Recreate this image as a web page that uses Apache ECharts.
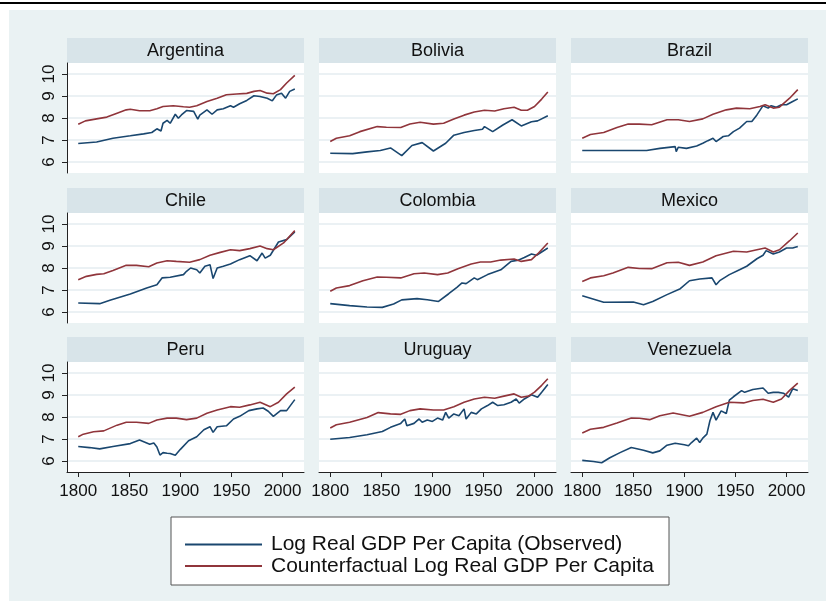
<!DOCTYPE html>
<html>
<head>
<meta charset="UTF-8">
<title>Log Real GDP Per Capita</title>
<script src="https://cdn.jsdelivr.net/npm/echarts@6.0.0/dist/echarts.min.js"></script>
<style>
  html, body { margin: 0; padding: 0; background: #fff; }
  #main { width: 826px; height: 605px; }
</style>
</head>
<body>
<div id="main"></div>
<script type="text/javascript">
// 国家 / 面板顺序
var countries = ['Argentina', 'Bolivia', 'Brazil', 'Chile', 'Colombia', 'Mexico', 'Peru', 'Uruguay', 'Venezuela'];
var seriesNames = ['Log Real GDP Per Capita (Observed)', 'Counterfactual Log Real GDP Per Capita'];
var yTicks = [6, 7, 8, 9, 10];
var xTicks = [1800, 1850, 1900, 1950, 2000];

// [year, log gdp]
var argObs = [[1800,6.84],[1818,6.91],[1834,7.08],[1851,7.19],[1864,7.28],[1872,7.34],[1877,7.51],[1881,7.41],[1883,7.76],[1887,7.89],[1890,7.76],[1895,8.17],[1898,7.99],[1901,8.14],[1906,8.34],[1913,8.30],[1917,7.95],[1919,8.13],[1926,8.37],[1931,8.17],[1936,8.37],[1942,8.42],[1949,8.56],[1952,8.49],[1958,8.65],[1965,8.80],[1972,9.01],[1978,8.98],[1985,8.90],[1990,8.78],[1994,9.04],[1999,9.13],[2003,8.90],[2007,9.21],[2012,9.32]];
var argCf = [[1800,7.72],[1807,7.87],[1818,7.96],[1828,8.04],[1838,8.22],[1847,8.37],[1851,8.40],[1860,8.33],[1870,8.33],[1877,8.42],[1883,8.52],[1893,8.56],[1903,8.51],[1909,8.49],[1916,8.56],[1926,8.75],[1936,8.90],[1945,9.06],[1955,9.09],[1965,9.12],[1972,9.21],[1978,9.25],[1985,9.13],[1991,9.10],[1998,9.29],[2004,9.59],[2012,9.94]];

var bolObs = [[1800,6.40],[1822,6.38],[1836,6.46],[1849,6.52],[1859,6.64],[1870,6.29],[1880,6.75],[1890,6.88],[1901,6.50],[1913,6.85],[1921,7.22],[1931,7.34],[1941,7.43],[1949,7.49],[1951,7.61],[1959,7.38],[1969,7.68],[1978,7.92],[1987,7.64],[1997,7.83],[2003,7.87],[2013,8.10]];
var bolCf = [[1800,6.93],[1806,7.08],[1819,7.19],[1829,7.38],[1846,7.61],[1855,7.58],[1869,7.57],[1878,7.73],[1888,7.81],[1901,7.72],[1911,7.76],[1921,7.95],[1931,8.13],[1941,8.27],[1951,8.35],[1961,8.32],[1970,8.42],[1980,8.49],[1987,8.35],[1993,8.35],[2000,8.52],[2007,8.86],[2013,9.18]];

var braObs = [[1800,6.52],[1863,6.52],[1876,6.62],[1891,6.70],[1892,6.47],[1894,6.67],[1902,6.62],[1912,6.73],[1918,6.85],[1923,6.97],[1928,7.08],[1931,6.93],[1938,7.16],[1943,7.19],[1948,7.38],[1954,7.54],[1961,7.84],[1966,7.84],[1971,8.14],[1977,8.56],[1982,8.45],[1985,8.56],[1990,8.49],[1995,8.60],[2000,8.60],[2006,8.75],[2011,8.87]];
var braCf = [[1800,7.08],[1808,7.25],[1821,7.34],[1834,7.57],[1845,7.73],[1856,7.72],[1868,7.69],[1883,7.92],[1894,7.92],[1905,7.84],[1918,7.96],[1928,8.17],[1941,8.37],[1951,8.45],[1964,8.42],[1974,8.52],[1979,8.60],[1987,8.45],[1993,8.49],[2003,8.90],[2011,9.29]];

var chlObs = [[1800,6.41],[1821,6.38],[1831,6.53],[1851,6.82],[1867,7.09],[1877,7.24],[1882,7.55],[1890,7.58],[1903,7.70],[1906,7.85],[1910,8.00],[1916,7.92],[1919,7.77],[1924,8.08],[1929,8.15],[1932,7.52],[1936,8.00],[1942,8.08],[1949,8.18],[1958,8.38],[1968,8.56],[1975,8.33],[1980,8.68],[1983,8.45],[1988,8.58],[1996,9.18],[2004,9.29],[2012,9.64]];
var chlCf = [[1800,7.47],[1808,7.62],[1818,7.71],[1825,7.74],[1834,7.89],[1847,8.12],[1857,8.12],[1869,8.06],[1877,8.23],[1887,8.33],[1896,8.30],[1909,8.26],[1919,8.38],[1929,8.58],[1939,8.71],[1949,8.83],[1958,8.79],[1968,8.88],[1978,9.00],[1985,8.88],[1991,8.83],[2001,9.14],[2012,9.70]];

var colObs = [[1800,6.38],[1819,6.29],[1836,6.23],[1851,6.21],[1862,6.36],[1870,6.55],[1885,6.61],[1895,6.56],[1906,6.48],[1916,6.83],[1924,7.12],[1929,7.32],[1933,7.29],[1941,7.55],[1944,7.47],[1954,7.70],[1967,7.92],[1977,8.30],[1984,8.35],[1990,8.48],[1997,8.64],[2002,8.58],[2013,8.91]];
var colCf = [[1800,6.94],[1806,7.09],[1819,7.20],[1832,7.42],[1846,7.59],[1855,7.58],[1869,7.55],[1882,7.74],[1892,7.77],[1905,7.70],[1915,7.77],[1925,7.97],[1938,8.18],[1947,8.27],[1957,8.27],[1967,8.36],[1980,8.41],[1987,8.30],[1997,8.38],[2003,8.64],[2013,9.14]];

var mexObs = [[1800,6.74],[1821,6.44],[1850,6.45],[1860,6.33],[1869,6.48],[1883,6.79],[1896,7.06],[1905,7.42],[1915,7.50],[1927,7.55],[1931,7.24],[1935,7.44],[1944,7.70],[1954,7.92],[1961,8.08],[1971,8.42],[1977,8.58],[1980,8.79],[1987,8.64],[1993,8.73],[2000,8.91],[2006,8.91],[2011,8.98]];
var mexCf = [[1800,7.39],[1808,7.55],[1821,7.65],[1830,7.77],[1845,8.03],[1856,7.98],[1868,7.97],[1883,8.24],[1894,8.26],[1905,8.12],[1918,8.27],[1931,8.56],[1948,8.76],[1961,8.73],[1971,8.83],[1979,8.91],[1987,8.73],[1993,8.83],[2003,9.24],[2011,9.59]];

var perObs = [[1800,6.66],[1811,6.61],[1821,6.55],[1834,6.66],[1851,6.79],[1860,6.95],[1870,6.76],[1874,6.82],[1877,6.64],[1880,6.27],[1883,6.38],[1887,6.35],[1890,6.34],[1895,6.26],[1900,6.53],[1908,6.92],[1916,7.10],[1923,7.42],[1929,7.56],[1932,7.30],[1936,7.56],[1945,7.60],[1952,7.91],[1958,8.03],[1967,8.29],[1975,8.37],[1981,8.41],[1986,8.26],[1991,8.03],[1998,8.29],[2004,8.29],[2012,8.79]];
var perCf = [[1800,7.10],[1805,7.22],[1815,7.33],[1825,7.37],[1838,7.63],[1847,7.76],[1857,7.76],[1869,7.71],[1877,7.86],[1887,7.95],[1896,7.95],[1906,7.88],[1916,7.95],[1926,8.17],[1936,8.32],[1949,8.47],[1958,8.44],[1968,8.55],[1978,8.67],[1988,8.47],[1996,8.67],[2004,9.05],[2012,9.36]];

var uryObs = [[1800,6.99],[1819,7.07],[1836,7.19],[1851,7.34],[1859,7.53],[1869,7.71],[1873,7.91],[1875,7.60],[1882,7.71],[1887,7.91],[1890,7.76],[1895,7.86],[1900,7.80],[1905,7.95],[1910,7.86],[1913,8.21],[1916,7.95],[1921,8.14],[1926,8.06],[1931,8.37],[1933,7.91],[1938,8.21],[1943,8.14],[1948,8.37],[1954,8.52],[1959,8.67],[1964,8.52],[1970,8.56],[1977,8.67],[1982,8.82],[1985,8.63],[1990,8.82],[1997,9.01],[2003,8.90],[2007,9.13],[2013,9.48]];
var uryCf = [[1800,7.50],[1806,7.65],[1819,7.76],[1836,7.98],[1847,8.20],[1859,8.14],[1869,8.12],[1878,8.29],[1888,8.37],[1901,8.32],[1911,8.32],[1921,8.47],[1931,8.67],[1941,8.82],[1951,8.90],[1961,8.85],[1970,8.95],[1980,9.05],[1987,8.90],[1994,8.95],[2000,9.13],[2007,9.44],[2013,9.74]];

var venObs = [[1800,6.03],[1811,5.98],[1819,5.92],[1827,6.15],[1837,6.38],[1848,6.61],[1860,6.49],[1869,6.37],[1876,6.46],[1883,6.72],[1891,6.81],[1900,6.74],[1904,6.69],[1907,6.84],[1912,7.04],[1915,6.84],[1918,7.04],[1922,7.22],[1925,7.83],[1928,8.21],[1931,7.86],[1936,8.28],[1941,8.16],[1944,8.77],[1948,8.92],[1956,9.20],[1959,9.12],[1967,9.25],[1977,9.32],[1982,9.08],[1987,9.12],[1992,9.12],[1997,9.08],[2002,8.90],[2006,9.28],[2011,9.20]];
var venCf = [[1800,7.27],[1808,7.44],[1821,7.53],[1834,7.73],[1848,7.95],[1856,7.94],[1866,7.88],[1876,8.06],[1889,8.18],[1905,8.03],[1918,8.21],[1931,8.47],[1944,8.67],[1958,8.64],[1967,8.75],[1977,8.81],[1987,8.67],[1995,8.82],[2003,9.21],[2011,9.54]];

var obsData = [argObs, bolObs, braObs, chlObs, colObs, mexObs, perObs, uryObs, venObs];
var cfData = [argCf, bolCf, braCf, chlCf, colCf, mexCf, perCf, uryCf, venCf];

var myChart = echarts.init(document.getElementById('main'));
var font = 'Liberation Sans, Arial, Helvetica, sans-serif';
var colLeft = [67, 319, 571];
var rowTop = [63, 213, 362];
var panelW = 237, panelH = 110, stripH = 25;

var grids = [], xAxes = [], yAxes = [], series = [];
var graphics = [
    {type: 'rect', shape: {x: 9, y: 10, width: 817, height: 591}, style: {fill: '#EAF2F3'}, z: -10},
    {type: 'rect', shape: {x: 0, y: 2, width: 826, height: 2}, style: {fill: '#000'}, z: -10},
    // 图例边框
    {type: 'rect', shape: {x: 171, y: 517, width: 498, height: 68}, style: {fill: '#fff', stroke: '#555', lineWidth: 1}, z: -5}
];

countries.forEach(function (name, i) {
    var r = Math.floor(i / 3), c = i % 3;
    var left = colLeft[c], top = rowTop[r];
    graphics.push({
        type: 'rect', shape: {x: left, y: top - stripH, width: panelW, height: stripH},
        style: {fill: '#D8E4E9'}, z: -5
    });
    graphics.push({
        type: 'text', x: left + panelW / 2, y: top - stripH / 2 + 1,
        style: {text: name, fill: '#111', font: '18px ' + font, textAlign: 'center', textVerticalAlign: 'middle'}
    });
    grids.push({
        left: left, top: top, width: panelW, height: panelH,
        show: true, backgroundColor: '#fff', borderWidth: 0, containLabel: false, outerBoundsMode: 'none'
    });
    xAxes.push({
        type: 'value', gridIndex: i, min: 1789, max: 2021,
        show: r === 2,
        axisLine: {show: true, onZero: false, lineStyle: {color: '#222', width: 1}},
        axisTick: {show: true, length: 5, customValues: xTicks, lineStyle: {color: '#222'}},
        axisLabel: {
            show: true, customValues: xTicks, fontSize: 17, color: '#111', fontFamily: font, margin: 11,
            formatter: function (v) { return String(v); }
        },
        splitLine: {show: false}
    });
    yAxes.push({
        type: 'value', gridIndex: i, min: 5.5, max: 10.5,
        axisLine: {show: c === 0, onZero: false, lineStyle: {color: '#222', width: 1}},
        axisTick: {show: c === 0, length: 5, customValues: yTicks, lineStyle: {color: '#222'}},
        axisLabel: {show: c === 0, customValues: yTicks, rotate: 90, fontSize: 17, color: '#111', fontFamily: font, margin: 9},
        splitLine: {show: true, lineStyle: {color: '#E4EDF0', width: 1.6}}
    });
    series.push({
        name: seriesNames[0], type: 'line', xAxisIndex: i, yAxisIndex: i,
        data: obsData[i], showSymbol: false, symbol: 'none', clip: false,
        color: '#1A476F', lineStyle: {color: '#1A476F', width: 1.6}
    });
    series.push({
        name: seriesNames[1], type: 'line', xAxisIndex: i, yAxisIndex: i,
        data: cfData[i], showSymbol: false, symbol: 'none', clip: false,
        color: '#90353B', lineStyle: {color: '#90353B', width: 1.6}
    });
});

var option = {
    animation: false,
    backgroundColor: '#fff',
    graphic: graphics,
    grid: grids,
    xAxis: xAxes,
    yAxis: yAxes,
    legend: {
        data: seriesNames,
        orient: 'vertical',
        left: 180, top: 529,
        icon: 'rect', itemWidth: 77, itemHeight: 2, itemGap: 0.5,
        textStyle: {fontSize: 21, color: '#111', fontFamily: font, padding: [0, 0, 0, 4]}
    },
    series: series
};
myChart.setOption(option);
</script>
</body>
</html>
